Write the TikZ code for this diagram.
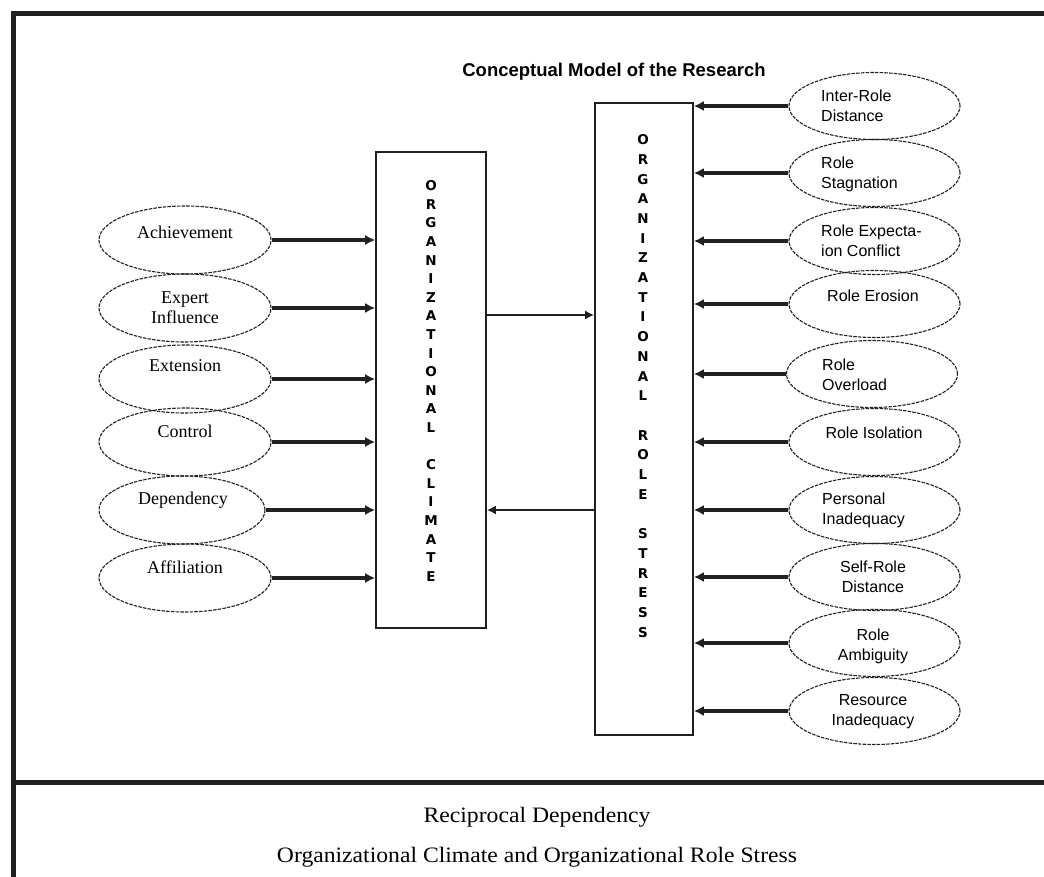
\documentclass[tikz,border=0pt]{standalone}
\usepackage{fontspec}
\setmainfont{Liberation Serif}
\newfontfamily\sansf{Liberation Sans}
\newfontfamily\dejaf{DejaVu Sans}
\usetikzlibrary{arrows.meta,shapes.geometric}
\definecolor{ink}{HTML}{231F20}
\begin{document}
\begin{tikzpicture}[x=1pt,y=-1pt,
  frameline/.style={draw=ink,line width=5pt,line cap=butt,line join=miter},
  bigbox/.style={draw=ink,line width=1.6pt,rectangle,inner sep=0pt},
  vtext/.style={align=center,inner sep=0pt},
  lell/.style={draw=ink,ellipse,line width=1.1pt,dash pattern=on 3.5pt off 1.2pt,minimum width=172pt,minimum height=68pt,inner sep=0pt},
  rell/.style={draw=ink,ellipse,line width=1.1pt,dash pattern=on 3.5pt off 1.2pt,minimum width=171pt,minimum height=67pt,inner sep=0pt},
  ltext/.style={inner sep=0pt,align=center,font=\fontsize{18}{20}\selectfont},
  rtext/.style={inner sep=0pt,font=\sansf\fontsize{16}{20}\selectfont},
  arr/.style={draw=ink,line width=3.2pt,-{Latex[length=10pt,width=10pt]}},
  arrthin/.style={draw=ink,line width=2.4pt,-{Latex[length=9pt,width=9pt]}}]
\useasboundingbox (0,0) rectangle (1044,877);
% frame
\draw[frameline] (13.5,877) -- (13.5,13.3) -- (1044,13.3);
\draw[frameline] (13.5,782) -- (1044,782);
% title
\node[inner sep=0pt,font=\sansf\bfseries\fontsize{18.5}{20}\selectfont] (title) at (614,72) {Conceptual Model of the Research};
% central boxes
\node[bigbox,minimum width=110pt,minimum height=476pt] (oc) at (431,390) {};
\node[bigbox,minimum width=98pt,minimum height=632pt] (ors) at (644,419) {};
\node[vtext,font=\dejaf\bfseries\fontsize{13.5}{18.6}\selectfont] (octext) at (431,381)
  {O\\R\\G\\A\\N\\I\\Z\\A\\T\\I\\O\\N\\A\\L\\[18.6pt]C\\L\\I\\M\\A\\T\\E};
\node[vtext,font=\dejaf\bfseries\fontsize{13.5}{19.7}\selectfont] (orstext) at (643,386)
  {O\\R\\G\\A\\N\\I\\Z\\A\\T\\I\\O\\N\\A\\L\\[19.7pt]R\\O\\L\\E\\[19.7pt]S\\T\\R\\E\\S\\S};
% box to box arrows
\draw[arrthin] (oc.east |- 0,315) -- (ors.west |- 0,315);
\draw[arrthin] (ors.west |- 0,510) -- (oc.east |- 0,510);
% left ellipses
\node[lell] (ach) at (185,240) {};
\node[lell] (exp) at (185,308) {};
\node[lell] (ext) at (185,379) {};
\node[lell] (con) at (185,442) {};
\node[lell,minimum width=166pt] (dep) at (182,510) {};
\node[lell] (aff) at (185,578) {};
\node[ltext] (achT) at (185,232) {Achievement};
\node[ltext] (expT) at (185,308) {Expert\\Influence};
\node[ltext] (extT) at (185,366) {Extension};
\node[ltext] (conT) at (185,431) {Control};
\node[ltext] (depT) at (183,500) {Dependency};
\node[ltext] (affT) at (185,567) {Affiliation};
\foreach \n in {ach,exp,ext,con,dep,aff}
  \draw[arr] (\n.east) -- (\n.east -| oc.west);
% right ellipses
\node[rell] (ird) at (874.5,106) {};
\node[rell] (rst) at (874.5,173) {};
\node[rell] (rec) at (874.5,241) {};
\node[rell] (rer) at (874.5,304) {};
\node[rell] (rov) at (872,374) {};
\node[rell] (ris) at (874.5,442) {};
\node[rell] (pin) at (874.5,510) {};
\node[rell] (srd) at (874.5,577) {};
\node[rell] (ram) at (874.5,643) {};
\node[rell] (rin) at (874.5,711) {};
\node[rtext,align=left,anchor=west] (irdT) at (821,106) {Inter-Role\\Distance};
\node[rtext,align=left,anchor=west] (rstT) at (821,174) {Role\\Stagnation};
\node[rtext,align=left,anchor=west] (recT) at (821,241) {Role Expecta-\\ion Conflict};
\node[rtext] (rerT) at (873,296) {Role Erosion};
\node[rtext,align=left,anchor=west] (rovT) at (822,375) {Role\\Overload};
\node[rtext] (risT) at (874,433) {Role Isolation};
\node[rtext,align=left,anchor=west] (pinT) at (822,510) {Personal\\Inadequacy};
\node[rtext,align=center] (srdT) at (873,577) {Self-Role\\Distance};
\node[rtext,align=center] (ramT) at (873,646) {Role\\Ambiguity};
\node[rtext,align=center] (rinT) at (873,712) {Resource\\Inadequacy};
\foreach \n in {ird,rst,rec,rer,rov,ris,pin,srd,ram,rin}
  \draw[arr] (\n.west) -- (\n.west -| ors.east);
% captions
\node[inner sep=0pt,font=\fontsize{22}{24}\selectfont] (cap1) at (537,817) {\resizebox{227pt}{\height}{Reciprocal Dependency}};
\node[inner sep=0pt,font=\fontsize{22}{24}\selectfont] (cap2) at (537,857) {\resizebox{520pt}{\height}{Organizational Climate and Organizational Role Stress}};
\end{tikzpicture}
\end{document}
